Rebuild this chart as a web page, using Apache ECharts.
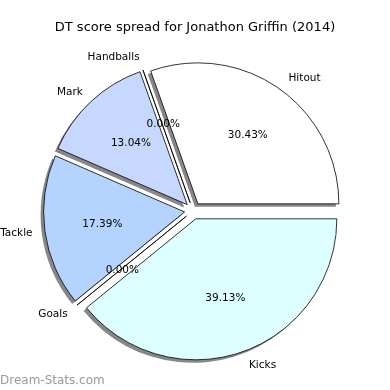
<!DOCTYPE html>
<html>
<head>
<meta charset="utf-8">
<script src="https://cdn.jsdelivr.net/npm/echarts@6/dist/echarts.min.js"></script>
<style>html,body{margin:0;padding:0;background:#fff}#c{width:390px;height:390px}</style>
</head>
<body>
<div id="c"></div>
<script>
const categories = ['Hitout', 'Handballs', 'Mark', 'Tackle', 'Goals', 'Kicks'];
const values = [7, 0, 3, 4, 0, 9];
const titleText = 'DT score spread for Jonathon Griffin (2014)';
const watermark = 'Dream-Stats.com';

const palette = ['#FFFFFF', '#FFFFFF', '#C6D8FF', '#B4D4FF', '#B4D4FF', '#DDFFFF'];
const CX = 193, CY = 210.8, R = 141, OFF = 8.5, SH = 3;
const LCX = 194.3, LCY = 211.3, LADJ = 3.3;
const FONT = 'DejaVu Sans';
const total = values.reduce((a, b) => a + b, 0);

const chart = echarts.init(document.getElementById('c'), null, {renderer: 'canvas'});

function mkData(kind) {
  return categories.map((n, i) => ({
    name: n, value: values[i], selected: true,
    itemStyle: kind === 'main' ? {color: palette[i]}
      : kind === 'shadow' ? {color: 'rgba(0,0,0,0.47)', borderWidth: 0}
      : {color: 'rgba(0,0,0,0)', borderWidth: 0}
  }));
}
const common = {
  type: 'pie', center: [CX, CY], startAngle: 0, clockwise: false,
  selectedMode: 'multiple', selectedOffset: OFF, avoidLabelOverlap: false,
  silent: true, animation: false, minShowLabelAngle: 0,
  emphasis: {disabled: true}, labelLine: {show: false}
};

chart.setOption({
  animation: false,
  title: [
    {text: titleText, left: 'center', top: 16,
     textStyle: {fontFamily: FONT, fontSize: 13, fontWeight: 'normal', color: '#000'}},
    {text: watermark, left: -5, top: 370,
     textStyle: {fontFamily: FONT, fontSize: 12, fontWeight: 'normal', color: '#9a9a9a'}}
  ],
  series: [
    Object.assign({}, common, {
      name: 'shadow', radius: [0, R], center: [CX - SH, CY + SH], z: 0,
      label: {show: false},
      data: mkData('shadow')
    }),
    Object.assign({}, common, {
      name: 'main', radius: [0, R], z: 1,
      itemStyle: {borderColor: '#000', borderWidth: 0.8},
      label: {show: false},
      data: mkData('main')
    }),
    Object.assign({}, common, {
      name: 'pct', radius: [0, 2 * (0.6 * R - LADJ)], center: [LCX, LCY], z: 2,
      label: {show: true, position: 'inside', fontFamily: FONT, fontSize: 10.5, color: '#000',
        formatter: p => (p.value / total * 100).toFixed(2) + '%'},
      data: mkData('none')
    }),
    Object.assign({}, common, {
      name: 'names', radius: [0, 2 * (1.1 * R - LADJ)], center: [LCX, LCY], z: 2,
      label: {show: true, position: 'inside', fontFamily: FONT, fontSize: 10.5, color: '#000',
        formatter: p => p.name},
      labelLayout: p => ({align: (p.labelRect.x + p.labelRect.width / 2) >= LCX ? 'left' : 'right'}),
      data: mkData('none')
    })
  ]
});
</script>
</body>
</html>
